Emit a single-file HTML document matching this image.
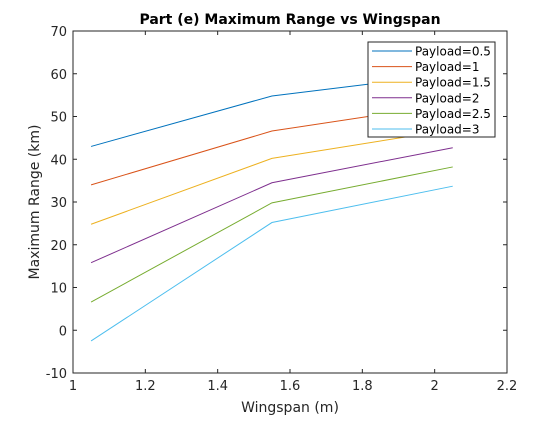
<!DOCTYPE html>
<html><head><meta charset="utf-8"><style>
body{margin:0;background:#fff;font-family:"Liberation Sans","DejaVu Sans",sans-serif}
</style></head><body>
<svg id="chart" width="560" height="420" xmlns="http://www.w3.org/2000/svg" font-family="DejaVu Sans, Liberation Sans, sans-serif">
<rect width="560" height="420" fill="#fff"/>
<g id="plot"></g>
</svg>
<script>
const xs=[1.05,1.55,2.05];
const s05=[43,54.8,60];
const s1=[34,46.6,53];
const s15=[24.8,40.2,47];
const s2=[15.8,34.5,42.7];
const s25=[6.6,29.8,38.2];
const s3=[-2.5,25.2,33.7];
const labels=["Payload=0.5","Payload=1","Payload=1.5","Payload=2","Payload=2.5","Payload=3"];
const xticks=[1,1.2,1.4,1.6,1.8,2,2.2];
const yticks=[-10,0,10,20,30,40,50,60,70];
const colors=["#0072BD","#D95319","#EDB120","#7E2F8E","#77AC30","#4DBEEE"];
const series=[s05,s1,s15,s2,s25,s3];
const L=73,R=507,T=31,B=373;
const X=v=>L+(v-1)/1.2*(R-L);
const Y=v=>B-(v+10)/80*(B-T);
const g=document.getElementById('plot');
const NS="http://www.w3.org/2000/svg";
function mk(t,a,p){const e=document.createElementNS(NS,t);for(const k in a)e.setAttribute(k,a[k]);(p||g).appendChild(e);return e;}
let ax=mk('rect',{x:L,y:T,width:R-L,height:B-T,fill:'#fff',stroke:'#262626','stroke-width':1});


xticks.forEach(v=>{const x=X(v);
mk('line',{x1:x,x2:x,y1:B,y2:B-4,stroke:'#262626'});mk('line',{x1:x,x2:x,y1:T,y2:T+4,stroke:'#262626'});
const t=mk('text',{x:x,y:B+17,'text-anchor':'middle','font-size':13,fill:'#262626'});t.textContent=String(v);

});
yticks.forEach(v=>{const y=Y(v);
mk('line',{x1:L,x2:L+4,y1:y,y2:y,stroke:'#262626'});mk('line',{x1:R,x2:R-4,y1:y,y2:y,stroke:'#262626'});
const t=mk('text',{x:L-6,y:y+5,'text-anchor':'end','font-size':13,fill:'#262626'});t.textContent=String(v);

});
series.forEach((s,i)=>{const p=mk('polyline',{points:s.map((v,j)=>X(xs[j])+','+Y(v)).join(' '),fill:'none',stroke:colors[i],'stroke-width':1});

});
let t=mk('text',{x:290,y:24,'text-anchor':'middle','font-size':14,'font-weight':'bold',fill:'#000'});t.textContent="Part (e) Maximum Range vs Wingspan";


t=mk('text',{x:290,y:412,'text-anchor':'middle','font-size':14,fill:'#262626'});t.textContent="Wingspan (m)";


t=mk('text',{x:0,y:0,'text-anchor':'middle','font-size':14,fill:'#262626',transform:'translate(39,202) rotate(-90)'});t.textContent="Maximum Range (km)";


const lg=mk('g',{});


mk('rect',{x:368,y:42,width:127,height:95,fill:'#fff',stroke:'#262626'},lg);
labels.forEach((l,i)=>{const y=51+i*15.6;
mk('line',{x1:372,x2:412,y1:y,y2:y,stroke:colors[i]},lg);
const e=mk('text',{x:415,y:y+4.5,'font-size':12,fill:'#000'},lg);e.textContent=l;

});
</script>
</body></html>
